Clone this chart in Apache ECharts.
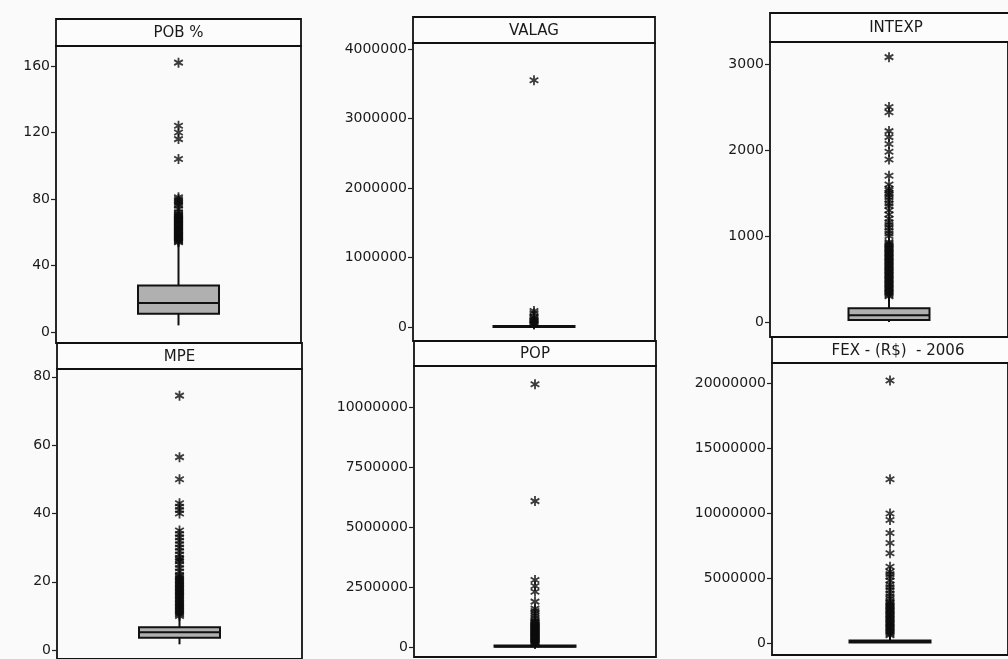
<!DOCTYPE html>
<html>
<head>
<meta charset="utf-8">
<script src="https://cdn.jsdelivr.net/npm/echarts@6/dist/echarts.min.js"></script>
<style>
  html, body { margin: 0; padding: 0; background: #fafafa; }
  #chart-container { width: 1008px; height: 659px; }
</style>
</head>
<body>
<div id="chart-container"></div>
<script>
var dom = document.getElementById("chart-container");
var myChart = echarts.init(dom, null, { renderer: "canvas" });

// variable names (panel headers)
var names = ["POB %", "VALAG", "INTEXP", "MPE", "POP", "FEX - (R$)  - 2006"];

// box stats: [low whisker, Q1, median, Q3, high whisker]
var boxPOB = [4, 11, 17.5, 28, 53];
var boxVALAG = [0, 2000, 6000, 15000, 30000];
var boxINTEXP = [0, 25, 80, 160, 290];
var boxMPE = [1.7, 3.6, 5.2, 6.7, 9.6];
var boxPOP = [0, 10000, 25000, 60000, 110000];
var boxFEX = [0, 50000, 100000, 200000, 500000];

// outliers
var outPOB = [54, 54.5, 55, 55.5, 56, 56.5, 57, 57.5, 58, 58.5, 59, 59.5, 60, 60.5, 61, 61.5,
  62, 62.5, 63, 63.5, 64, 64.5, 65, 65.5, 66, 66.5, 67, 67.5, 68, 68.5, 69, 69.5, 70, 70.5,
  71, 72, 74, 76, 77, 78, 79, 80, 81, 104, 116, 120, 124, 162];
var outVALAG = [35000, 45000, 60000, 75000, 90000, 110000, 130000, 150000, 200000, 230000, 3550000];
var outINTEXP = [300, 315, 330, 345, 360, 375, 390, 405, 420, 435, 450, 465, 480, 495, 510,
  525, 540, 555, 570, 585, 600, 615, 630, 645, 660, 675, 690, 705, 720, 735, 750, 765, 780,
  795, 810, 825, 840, 855, 870, 885, 900, 915, 930, 1000, 1030, 1060, 1100, 1130, 1160, 1200,
  1250, 1300, 1350, 1380, 1420, 1450, 1480, 1500, 1530, 1550, 1600, 1700, 1890, 1980, 2070,
  2150, 2220, 2440, 2500, 3080];
var outMPE = [10, 10.4, 10.8, 11.2, 11.6, 12, 12.4, 12.8, 13.2, 13.6, 14, 14.4, 14.8, 15.2,
  15.6, 16, 16.4, 16.8, 17.2, 17.6, 18, 18.4, 18.8, 19.2, 19.6, 20, 20.4, 20.8, 21.2, 21.6,
  22, 23, 24, 25, 26, 26.5, 27, 28, 29, 30, 31, 32, 33, 34, 35, 40, 41, 42, 43, 50, 56.5, 74.5];
var outPOP = [120000, 150000, 180000, 210000, 240000, 270000, 300000, 330000, 360000, 390000,
  420000, 450000, 480000, 510000, 540000, 570000, 600000, 630000, 660000, 690000, 720000,
  750000, 780000, 810000, 840000, 870000, 900000, 930000, 960000, 990000, 1020000, 1060000,
  1100000, 1200000, 1300000, 1400000, 1500000, 1600000, 1890000, 2300000, 2540000, 2790000,
  6080000, 10950000];
var outFEX = [600000, 700000, 800000, 900000, 1000000, 1100000, 1200000, 1300000, 1400000,
  1500000, 1600000, 1700000, 1800000, 1900000, 2000000, 2100000, 2200000, 2300000, 2400000,
  2500000, 2600000, 2700000, 2800000, 2900000, 3000000, 3100000, 3200000, 3400000, 3600000,
  3800000, 4070000, 4300000, 4500000, 4800000, 5100000, 5300000, 5500000, 5870000, 6900000,
  7700000, 8460000, 9460000, 9970000, 12600000, 20200000];

// y tick labels
var ticksPOB = [0, 40, 80, 120, 160];
var ticksVALAG = [0, 1000000, 2000000, 3000000, 4000000];
var ticksINTEXP = [0, 1000, 2000, 3000];
var ticksMPE = [0, 20, 40, 60, 80];
var ticksPOP = [0, 2500000, 5000000, 7500000, 10000000];
var ticksFEX = [0, 5000000, 10000000, 15000000, 20000000];

var boxes = [boxPOB, boxVALAG, boxINTEXP, boxMPE, boxPOP, boxFEX];
var outliers = [outPOB, outVALAG, outINTEXP, outMPE, outPOP, outFEX];
var ticks = [ticksPOB, ticksVALAG, ticksINTEXP, ticksMPE, ticksPOP, ticksFEX];

// panel layout in pixels (scan is slightly skewed)
var layout = [
  { left: 56, right: 301, head: 19, top: 46, bottom: 343, min: -6.6, max: 172 },
  { left: 413, right: 655, head: 17, top: 43, bottom: 341, min: -201000, max: 4086000 },
  { left: 770, right: 1022, head: 13, top: 42, bottom: 337, min: -174, max: 3256 },
  { left: 57, right: 302, head: 343, top: 369, bottom: 662, min: -2.6, max: 82.3 },
  { left: 414, right: 656, head: 341, top: 366, bottom: 657, min: -417000, max: 11710000 },
  { left: 772, right: 1024, head: 337, top: 363, bottom: 655, min: -920000, max: 21540000 }
];

// asterisk marker, three filled bars
var starPath =
  "path://M-1.8,-10L1.8,-10L1.8,10L-1.8,10Z" +
  "M-9.56,-3.44L-7.76,-6.56L9.56,3.44L7.76,6.56Z" +
  "M-7.76,6.56L-9.56,3.44L7.76,-6.56L9.56,-3.44Z";

var grids = [], xAxes = [], yAxes = [], series = [], graphics = [];

layout.forEach(function (p, i) {
  grids.push({
    left: p.left,
    top: p.top,
    width: p.right - p.left,
    height: p.bottom - p.top,
    show: true,
    backgroundColor: "transparent",
    borderColor: "#111",
    borderWidth: 1.8
  });
  xAxes.push({ type: "value", gridIndex: i, min: 0, max: 1, show: false });
  yAxes.push({
    type: "value",
    gridIndex: i,
    min: p.min,
    max: p.max,
    splitLine: { show: false },
    axisLine: { show: false },
    axisTick: {
      show: true,
      length: 5,
      customValues: ticks[i],
      lineStyle: { color: "#222", width: 1.2 }
    },
    axisLabel: {
      customValues: ticks[i],
      formatter: function (v) { return String(v); },
      color: "#1a1a1a",
      fontFamily: "DejaVu Sans",
      fontSize: 14,
      margin: 6
    }
  });

  series.push({
    type: "custom",
    xAxisIndex: i,
    yAxisIndex: i,
    data: [[0.5].concat(boxes[i])],
    renderItem: function (params, api) {
      var x = api.value(0);
      var low = api.coord([x, api.value(1)]);
      var q1 = api.coord([x, api.value(2)]);
      var med = api.coord([x, api.value(3)]);
      var q3 = api.coord([x, api.value(4)]);
      var high = api.coord([x, api.value(5)]);
      var half = 40.5;
      return {
        type: "group",
        children: [
          { type: "line", shape: { x1: low[0], y1: low[1], x2: q1[0], y2: q1[1] },
            style: { stroke: "#111", lineWidth: 2 } },
          { type: "line", shape: { x1: q3[0], y1: q3[1], x2: high[0], y2: high[1] },
            style: { stroke: "#111", lineWidth: 2 } },
          { type: "rect",
            shape: { x: q3[0] - half, y: q3[1], width: half * 2, height: Math.max(q1[1] - q3[1], 0.8) },
            style: { fill: "#b0b0b0", stroke: "#111", lineWidth: 2 } },
          { type: "line", shape: { x1: med[0] - half, y1: med[1], x2: med[0] + half, y2: med[1] },
            style: { stroke: "#111", lineWidth: 2 } }
        ]
      };
    },
    z: 3
  });

  series.push({
    type: "scatter",
    xAxisIndex: i,
    yAxisIndex: i,
    symbol: starPath,
    symbolSize: 10,
    symbolKeepAspect: true,
    itemStyle: { color: "#0d0d0d" },
    data: outliers[i].map(function (v) { return [0.5, v]; }),
    z: 4
  });

  graphics.push({
    type: "group",
    z: 10,
    children: [
      { type: "rect",
        shape: { x: p.left, y: p.head, width: p.right - p.left, height: p.top - p.head },
        style: { fill: "#fcfcfc", stroke: "#111", lineWidth: 1.8 } },
      { type: "text",
        x: (p.left + p.right) / 2,
        y: (p.head + p.top) / 2 + 1,
        style: { text: names[i], fill: "#1a1a1a", font: "15px 'DejaVu Sans'",
          textAlign: "center", textVerticalAlign: "middle" } }
    ]
  });
});

var option = {
  backgroundColor: "#fafafa",
  animation: false,
  grid: grids,
  xAxis: xAxes,
  yAxis: yAxes,
  series: series,
  graphic: graphics
};

myChart.setOption(option);

window.addEventListener("resize", function () {
  myChart.resize();
});
</script>
</body>
</html>
